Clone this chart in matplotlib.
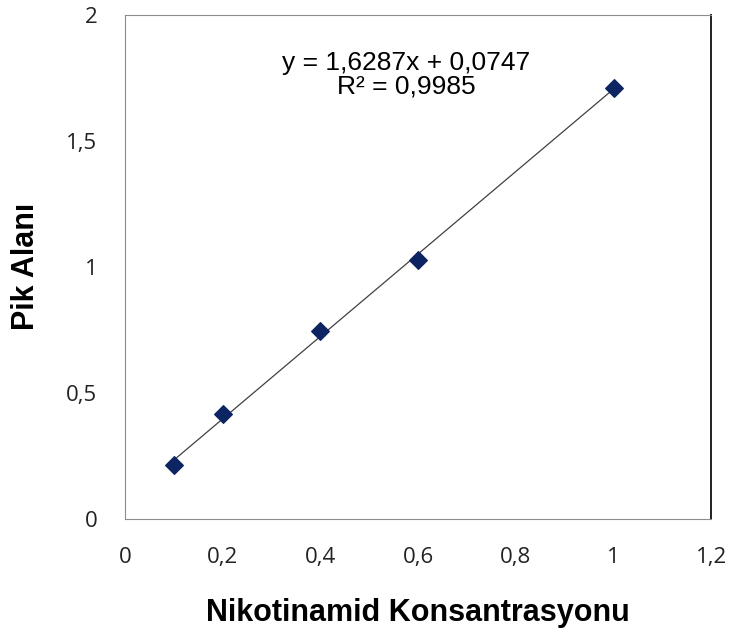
import matplotlib.pyplot as plt
import numpy as np

# Nikotinamid kalibrasyon verisi
konsantrasyon = [0.1, 0.2, 0.4, 0.6, 1.0]
pik_alani = [0.212, 0.417, 0.746, 1.025, 1.71]

x_ticks = [0, 0.2, 0.4, 0.6, 0.8, 1.0, 1.2]
x_tick_labels = ["0", "0,2", "0,4", "0,6", "0,8", "1", "1,2"]
y_ticks = [0, 0.5, 1.0, 1.5, 2.0]
y_tick_labels = ["0", "0,5", "1", "1,5", "2"]

denklem = "y = 1,6287x + 0,0747\nR² = 0,9985"

fig = plt.figure(figsize=(7.31, 6.39), dpi=100)
ax = fig.add_axes([0.171, 0.188, 0.802, 0.789])

# trend line from least squares fit
egim, kesim = np.polyfit(konsantrasyon, pik_alani, 1)
xs = np.array([min(konsantrasyon), max(konsantrasyon)])
ax.plot(xs, egim * xs + kesim, color="#404040", lw=0.9, zorder=2)

ax.scatter(konsantrasyon, pik_alani, marker="D", s=80, color="#0c2461",
           edgecolors="#0c2461", zorder=3)

ax.set_xlim(0, 1.2)
ax.set_ylim(0, 2)
ax.set_xticks(x_ticks)
ax.set_xticklabels(x_tick_labels)
ax.set_yticks(y_ticks)
ax.set_yticklabels(y_tick_labels)
ax.tick_params(length=0, labelsize=16, colors="#222222")
ax.tick_params(axis="x", pad=20)
ax.tick_params(axis="y", pad=20)
for lbl in ax.get_xticklabels() + ax.get_yticklabels():
    lbl.set_family("Open Sans")

for side in ["left", "top", "bottom"]:
    ax.spines[side].set_color("#8c8c8c")
ax.spines["right"].set_color("#202020")
ax.spines["right"].set_linewidth(1.4)

ax.set_xlabel("Nikotinamid Konsantrasyonu", fontsize=22, fontweight="bold",
              family="Liberation Sans", labelpad=22)
ax.set_ylabel("Pik Alanı", fontsize=22, fontweight="bold",
              family="Liberation Sans", labelpad=18)

ax.text(0.479, 0.881, denklem, transform=ax.transAxes, ha="center", va="center",
        multialignment="center", fontsize=19, family="Liberation Sans",
        linespacing=0.95)

fig.savefig("out.png", dpi=100, facecolor="white")
